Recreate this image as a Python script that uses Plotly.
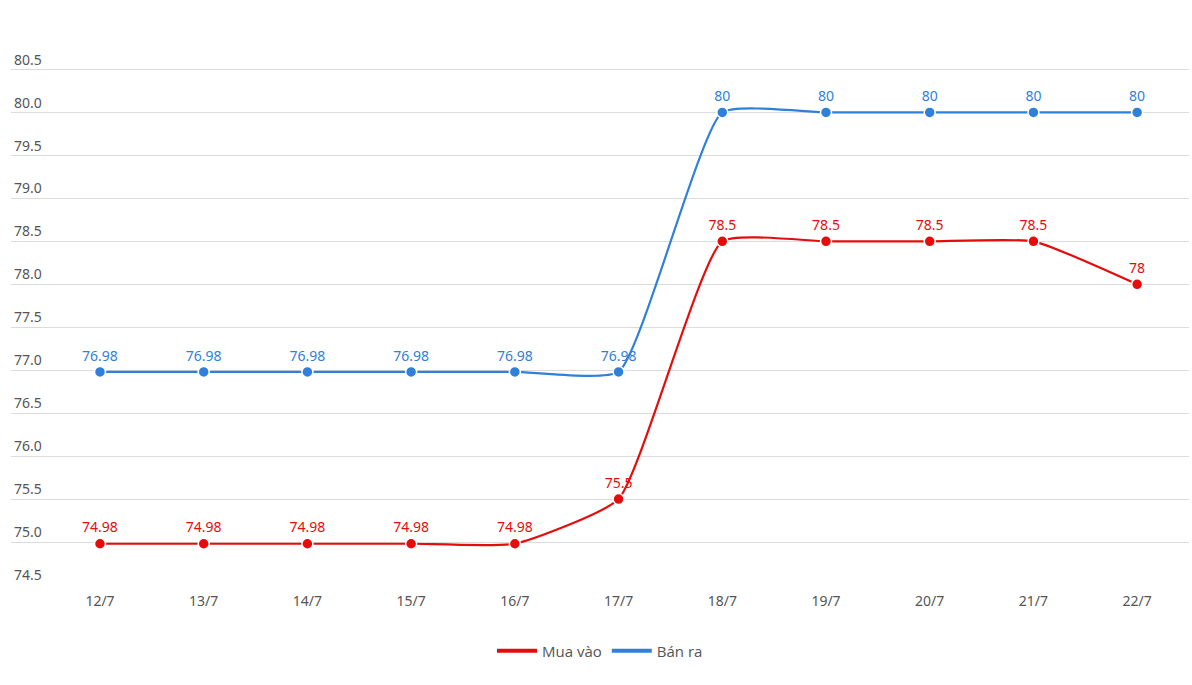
import plotly.graph_objects as go

dates = ["12/7", "13/7", "14/7", "15/7", "16/7", "17/7", "18/7", "19/7", "20/7", "21/7", "22/7"]
mua_vao = [74.98, 74.98, 74.98, 74.98, 74.98, 75.5, 78.5, 78.5, 78.5, 78.5, 78]
ban_ra = [76.98, 76.98, 76.98, 76.98, 76.98, 76.98, 80, 80, 80, 80, 80]
y_ticks = [74.5, 75.0, 75.5, 76.0, 76.5, 77.0, 77.5, 78.0, 78.5, 79.0, 79.5, 80.0, 80.5]

RED = "#e50c0c"
BLUE = "#2f80db"

x_idx = list(range(len(dates)))

fig = go.Figure()
for name, vals, col in [("Mua vào", mua_vao, RED), ("Bán ra", ban_ra, BLUE)]:
    fig.add_trace(go.Scatter(
        x=x_idx, y=vals, name=name, showlegend=False,
        mode="lines+markers+text",
        line=dict(color=col, width=2.2, shape="spline", smoothing=0.45),
        marker=dict(size=11, color=col, line=dict(color="white", width=1.5)),
        text=[f"{v:g}" for v in vals],
        textposition="top center",
        textfont=dict(color=col, size=14, family="Noto Sans"),
        cliponaxis=False,
    ))
for name, col in [("Mua vào", RED), ("Bán ra", BLUE)]:
    fig.add_trace(go.Scatter(
        x=[None], y=[None], name=name, mode="lines",
        line=dict(color=col, width=4), showlegend=True,
    ))

fig.update_layout(
    width=1192, height=685,
    margin=dict(l=11, r=3, t=47.5, b=100),
    paper_bgcolor="white", plot_bgcolor="white",
    font=dict(family="Noto Sans", color="#555"),
    showlegend=True,
    legend=dict(orientation="h", x=0.5, xanchor="center", y=-0.092, yanchor="top",
                font=dict(family="Open Sans", size=15, color="#555"), itemwidth=40),
    xaxis=dict(
        tickmode="array", tickvals=x_idx, ticktext=dates,
        range=[-0.858, 10.5], showgrid=False, zeroline=False, showline=False,
        tickfont=dict(size=14, color="#555"), ticks="", ticklabelstandoff=6,
    ),
    yaxis=dict(
        range=[74.5, 80.75], tickmode="array", tickvals=y_ticks,
        ticktext=[f"{v:.1f}" for v in y_ticks],
        ticklabelposition="inside top", showgrid=True, gridcolor="#dcdcdc",
        gridwidth=1, zeroline=False, showline=False,
        tickfont=dict(size=14, color="#555"),
    ),
)

fig.write_html("out.html")
